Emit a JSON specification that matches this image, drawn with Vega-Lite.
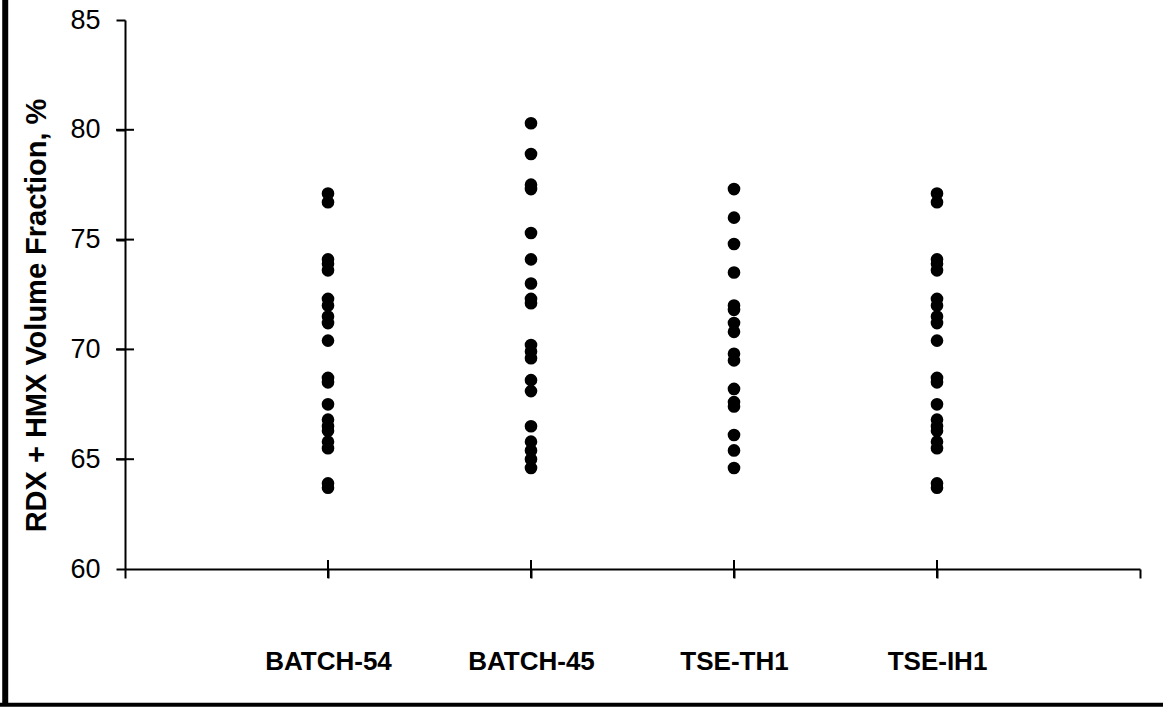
{
  "$schema": "https://vega.github.io/schema/vega-lite/v6.json",
  "width": 1015,
  "height": 549,
  "autosize": {"type": "none"},
  "padding": {"left": 125, "top": 20, "right": 23, "bottom": 138},
  "background": "white",
  "config": {"view": {"stroke": null}, "font": "Liberation Sans"},
  "datasets": {
    "pts": [
      {"group": 1, "value": 77.1}, {"group": 1, "value": 76.7}, {"group": 1, "value": 74.1}, {"group": 1, "value": 73.9}, {"group": 1, "value": 73.6},
      {"group": 1, "value": 72.3}, {"group": 1, "value": 72.0}, {"group": 1, "value": 71.5}, {"group": 1, "value": 71.2}, {"group": 1, "value": 70.4},
      {"group": 1, "value": 68.7}, {"group": 1, "value": 68.5}, {"group": 1, "value": 67.5}, {"group": 1, "value": 66.8}, {"group": 1, "value": 66.5},
      {"group": 1, "value": 66.3}, {"group": 1, "value": 65.8}, {"group": 1, "value": 65.5}, {"group": 1, "value": 63.9}, {"group": 1, "value": 63.7},
      {"group": 2, "value": 80.3}, {"group": 2, "value": 78.9}, {"group": 2, "value": 77.5}, {"group": 2, "value": 77.3}, {"group": 2, "value": 75.3},
      {"group": 2, "value": 74.1}, {"group": 2, "value": 73.0}, {"group": 2, "value": 72.3}, {"group": 2, "value": 72.1}, {"group": 2, "value": 70.2},
      {"group": 2, "value": 69.9}, {"group": 2, "value": 69.6}, {"group": 2, "value": 68.6}, {"group": 2, "value": 68.1}, {"group": 2, "value": 66.5},
      {"group": 2, "value": 65.8}, {"group": 2, "value": 65.4}, {"group": 2, "value": 65.0}, {"group": 2, "value": 64.6},
      {"group": 3, "value": 77.3}, {"group": 3, "value": 76.0}, {"group": 3, "value": 74.8}, {"group": 3, "value": 73.5}, {"group": 3, "value": 72.0},
      {"group": 3, "value": 71.8}, {"group": 3, "value": 71.2}, {"group": 3, "value": 70.8}, {"group": 3, "value": 69.8}, {"group": 3, "value": 69.5},
      {"group": 3, "value": 68.2}, {"group": 3, "value": 67.6}, {"group": 3, "value": 67.4}, {"group": 3, "value": 66.1}, {"group": 3, "value": 65.4},
      {"group": 3, "value": 64.6},
      {"group": 4, "value": 77.1}, {"group": 4, "value": 76.7}, {"group": 4, "value": 74.1}, {"group": 4, "value": 73.9}, {"group": 4, "value": 73.6},
      {"group": 4, "value": 72.3}, {"group": 4, "value": 72.0}, {"group": 4, "value": 71.5}, {"group": 4, "value": 71.2}, {"group": 4, "value": 70.4},
      {"group": 4, "value": 68.7}, {"group": 4, "value": 68.5}, {"group": 4, "value": 67.5}, {"group": 4, "value": 66.8}, {"group": 4, "value": 66.5},
      {"group": 4, "value": 66.3}, {"group": 4, "value": 65.8}, {"group": 4, "value": 65.5}, {"group": 4, "value": 63.9}, {"group": 4, "value": 63.7}
    ],
    "yticks": [{"v": 65}, {"v": 70}, {"v": 75}, {"v": 80}],
    "xticks": [{"g": 1}, {"g": 2}, {"g": 3}, {"g": 4}]
  },
  "layer": [
    {
      "data": {"name": "pts"},
      "mark": {"type": "circle", "size": 160, "color": "black", "opacity": 1},
      "encoding": {
        "x": {
          "field": "group", "type": "quantitative",
          "scale": {"domain": [0, 5], "nice": false, "zero": false},
          "axis": {
            "values": [0, 1, 2, 3, 4, 5],
            "labelExpr": "datum.value == 1 ? 'BATCH-54' : datum.value == 2 ? 'BATCH-45' : datum.value == 3 ? 'TSE-TH1' : datum.value == 4 ? 'TSE-IH1' : ''",
            "title": null, "grid": false, "domainColor": "black", "domainWidth": 2,
            "tickColor": "black", "tickWidth": 2, "tickSize": 9,
            "labelPadding": 70, "labelFontSize": 26, "labelFontWeight": "bold",
            "labelColor": "black", "labelFont": "Liberation Sans"
          }
        },
        "y": {
          "field": "value", "type": "quantitative",
          "scale": {"domain": [60, 85], "nice": false, "zero": false},
          "axis": {
            "values": [60, 65, 70, 75, 80, 85],
            "title": "RDX + HMX  Volume Fraction, %",
            "grid": false, "domainColor": "black", "domainWidth": 2,
            "tickColor": "black", "tickWidth": 2, "tickSize": 9,
            "labelPadding": 16, "labelFontSize": 27, "labelColor": "black",
            "labelFont": "Liberation Sans",
            "titleFontSize": 29, "titleFontWeight": "bold", "titleColor": "black",
            "titleFont": "Liberation Sans", "titlePadding": 18, "titleY": 295
          }
        }
      }
    },
    {
      "data": {"name": "yticks"},
      "mark": {"type": "tick", "orient": "horizontal", "size": 18, "thickness": 2, "color": "black", "opacity": 1},
      "encoding": {
        "y": {"field": "v", "type": "quantitative"},
        "x": {"datum": 0, "type": "quantitative"}
      }
    },
    {
      "data": {"name": "xticks"},
      "mark": {"type": "tick", "orient": "vertical", "size": 18, "thickness": 2, "color": "black", "opacity": 1},
      "encoding": {
        "x": {"field": "g", "type": "quantitative"},
        "y": {"datum": 60, "type": "quantitative"}
      }
    },
    {
      "data": {"values": [{}]},
      "mark": {"type": "rule", "color": "black", "strokeWidth": 6, "clip": false},
      "encoding": {
        "x": {"datum": -0.59, "type": "quantitative"},
        "y": {"datum": 53.8, "type": "quantitative"},
        "y2": {"datum": 86}
      }
    },
    {
      "data": {"values": [{}]},
      "mark": {"type": "rule", "color": "black", "strokeWidth": 4, "clip": false},
      "encoding": {
        "y": {"datum": 53.82, "type": "quantitative"},
        "x": {"datum": -0.62, "type": "quantitative"},
        "x2": {"datum": 5.2}
      }
    }
  ]
}
